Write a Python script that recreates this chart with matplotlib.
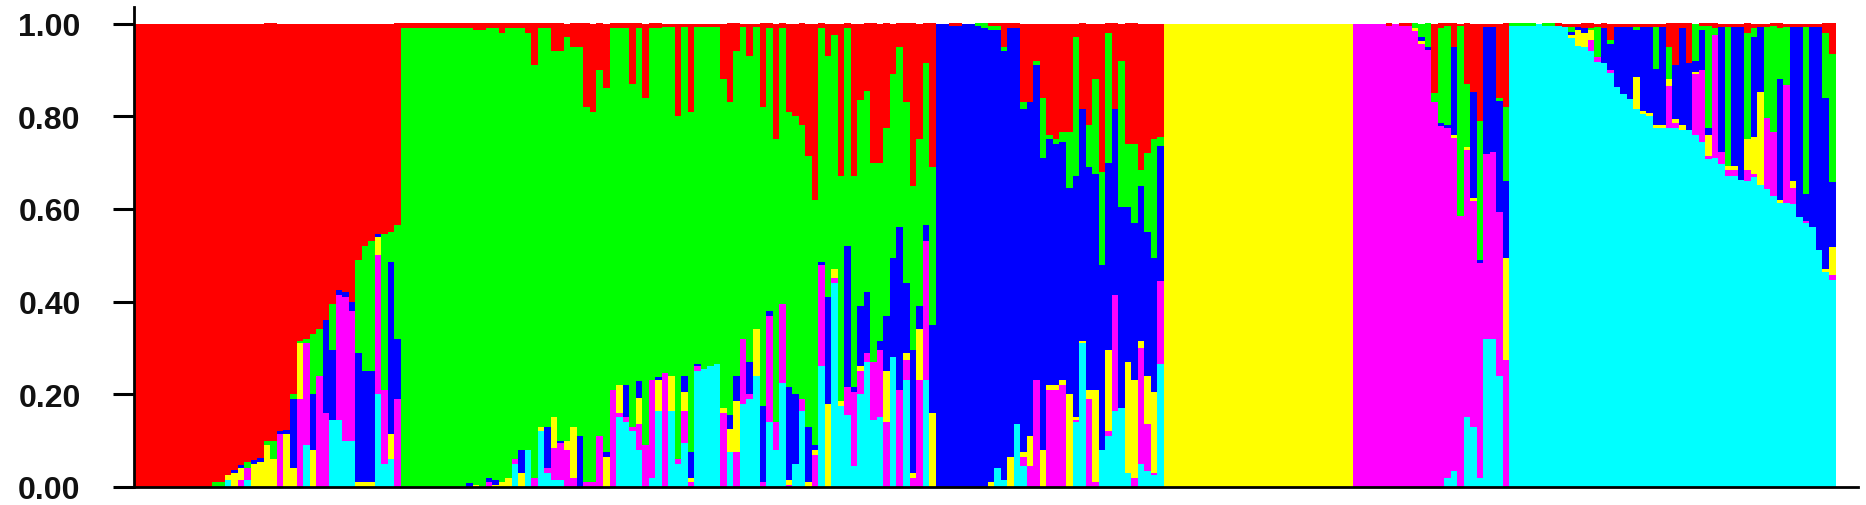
import numpy as np
import matplotlib
matplotlib.use("Agg")
import matplotlib.pyplot as plt

# STRUCTURE-style membership plot, K = 6
# each row: (cyan, magenta, yellow, blue, green, red), stacked bottom -> top
# None = the group's main cluster, takes whatever is left so the row sums to 1
cluster_colors = ["#00FFFF", "#FF00FF", "#FFFF00", "#0000FF", "#00FF00", "#FF0000"]

pop_red = [(0, 0, 0, 0, 0, None)] * 12 + [
    (0, 0, 0, 0, 0.01, None),
    (0, 0, 0, 0, 0.01, None),
    (0.015, 0, 0.01, 0, 0, None),
    (0, 0, 0.03, 0.007, 0, None),
    (0, 0.015, 0.025, 0.007, 0, None),
    (0.015, 0.025, 0, 0, 0.013, None),
    (0, 0, 0.05, 0.008, 0, None),
    (0, 0, 0.055, 0.007, 0, None),
    (0, 0, 0.09, 0, 0.01, None),
    (0, 0, 0.06, 0, 0.04, None),
    (0, 0.115, 0, 0.005, 0, None),
    (0, 0, 0.115, 0.008, 0, None),
    (0, 0, 0.04, 0.15, 0.01, None),
    (0, 0.19, 0.12, 0, 0.004, None),
    (0.09, 0.22, 0, 0, 0.01, None),
    (0, 0, 0.08, 0.12, 0.13, None),
    (0, 0.24, 0, 0, 0.1, None),
    (0, 0.16, 0, 0.2, 0, None),
    (0.145, 0, 0, 0.15, 0.1, None),
    (0.145, 0.27, 0, 0.01, 0, None),
    (0.1, 0.31, 0, 0.01, 0, None),
    (0.1, 0.28, 0, 0.02, 0, None),
    (0, 0, 0.01, 0.28, 0.2, None),
    (0, 0, 0.01, 0.24, 0.27, None),
    (0, 0, 0.01, 0.24, 0.28, None),
    (0.2, 0.3, 0.04, 0.005, 0, None),
    (0.05, 0.16, 0, 0, 0.335, None),
    (0.06, 0, 0.055, 0.37, 0.065, None),
    (0, 0.19, 0, 0.13, 0.245, None),
]

pop_green = [(0, 0, 0, 0, None, 0.01)] * 10 + [
    (0, 0, 0, 0.008, None, 0.01),
    (0, 0, 0.005, 0, None, 0.015),
    (0, 0, 0, 0, None, 0.015),
    (0, 0.01, 0, 0.01, None, 0.01),
    (0, 0, 0.005, 0.01, None, 0.01),
    (0, 0, 0.01, 0, None, 0.02),
    (0, 0, 0.02, 0, None, 0.01),
    (0.05, 0.01, 0, 0, None, 0.01),
    (0, 0, 0.03, 0.05, None, 0.01),
    (0.08, 0, 0, 0, None, 0.02),
    (0, 0.02, 0, 0, None, 0.09),
    (0.12, 0, 0.01, 0, None, 0.01),
    (0.03, 0.01, 0, 0.09, None, 0.01),
    (0.015, 0.07, 0.065, 0, None, 0.06),
    (0.015, 0.08, 0, 0.005, None, 0.06),
    (0, 0.08, 0.02, 0, None, 0.03),
    (0, 0.02, 0.11, 0, None, 0.05),
    (0, 0, 0, 0.11, None, 0.05),
    (0, 0.01, 0, 0, None, 0.18),
    (0, 0.01, 0, 0, None, 0.19),
    (0, 0.11, 0, 0, None, 0.1),
    (0, 0, 0.065, 0.01, None, 0.14),
    (0, 0.21, 0, 0, None, 0.01),
    (0.15, 0.01, 0.06, 0, None, 0.01),
    (0.14, 0.01, 0, 0.07, None, 0.01),
    (0.12, 0.01, 0, 0, None, 0.13),
    (0.08, 0.057, 0.054, 0.037, None, 0.01),
    (0, 0.09, 0, 0, None, 0.16),
    (0.02, 0.21, 0, 0, None, 0.01),
    (0.165, 0, 0.065, 0.007, None, 0.01),
    (0, 0.245, 0, 0, None, 0.008),
    (0.165, 0, 0.075, 0, None, 0.008),
    (0.05, 0.01, 0, 0, None, 0.2),
    (0.095, 0.07, 0.04, 0.035, None, 0.008),
    (0, 0.01, 0.01, 0.055, None, 0.19),
    (0.25, 0.01, 0, 0.005, None, 0.008),
    (0.255, 0, 0, 0, None, 0.008),
    (0.26, 0, 0, 0, None, 0.008),
    (0.265, 0, 0, 0, None, 0.008),
    (0, 0.16, 0.01, 0, None, 0.12),
    (0.075, 0, 0.05, 0.03, None, 0.17),
    (0, 0.075, 0.11, 0.055, None, 0.06),
    (0.18, 0.14, 0, 0, None, 0.008),
    (0.19, 0.01, 0, 0.07, None, 0.07),
    (0.24, 0, 0.1, 0, None, 0.008),
    (0, 0.01, 0, 0.165, None, 0.18),
    (0.14, 0.23, 0, 0.01, None, 0.01),
    (0.08, 0.06, 0, 0, None, 0.25),
    (0.225, 0.17, 0, 0, None, 0.01),
    (0, 0.005, 0.01, 0.2, None, 0.19),
    (0.05, 0, 0, 0.15, None, 0.2),
    (0.165, 0.025, 0, 0, None, 0.22),
    (0, 0, 0.01, 0.12, None, 0.285),
    (0, 0.07, 0.01, 0.01, None, 0.38),
    (0.26, 0.22, 0, 0.005, None, 0.01),
    (0, 0, 0.18, 0.23, None, 0.07),
    (0.44, 0.01, 0.02, 0, None, 0.025),
    (0.175, 0, 0.01, 0, None, 0.33),
    (0.155, 0.06, 0, 0.305, None, 0.01),
    (0.045, 0.16, 0, 0.01, None, 0.33),
    (0.2, 0.05, 0.01, 0.13, None, 0.165),
    (0.27, 0.02, 0, 0.13, None, 0.145),
    (0.145, 0.125, 0, 0, None, 0.3),
    (0.15, 0.145, 0, 0.02, None, 0.3),
    (0, 0.14, 0.11, 0.12, None, 0.225),
    (0.28, 0, 0, 0.215, None, 0.11),
    (0, 0.21, 0, 0.35, None, 0.05),
    (0.23, 0.045, 0.015, 0.15, None, 0.17),
    (0, 0.02, 0.01, 0.265, None, 0.35),
    (0, 0.23, 0.11, 0.05, None, 0.25),
    (0.23, 0.3, 0, 0.035, None, 0.085),
    (0, 0, 0.16, 0.19, None, 0.31),
]

pop_blue = [
    (0, 0, 0, None, 0, 0),
    (0, 0, 0, None, 0, 0),
    (0, 0, 0, None, 0, 0.005),
    (0, 0, 0, None, 0, 0.005),
    (0, 0, 0, None, 0, 0),
    (0, 0, 0, None, 0, 0),
    (0, 0, 0, None, 0.005, 0),
    (0, 0, 0, None, 0.01, 0),
    (0, 0, 0.01, None, 0.01, 0.005),
    (0.04, 0, 0, None, 0.01, 0.005),
    (0.015, 0, 0, None, 0.01, 0.05),
    (0, 0, 0.065, None, 0, 0.01),
    (0.135, 0, 0, None, 0, 0.01),
    (0.045, 0.02, 0.01, None, 0.015, 0.17),
    (0, 0.045, 0.065, None, 0, 0.17),
    (0, 0.23, 0, None, 0.01, 0.08),
    (0, 0, 0.08, None, 0.13, 0.16),
    (0, 0.21, 0.01, None, 0.01, 0.24),
    (0, 0.21, 0.01, None, 0.01, 0.25),
    (0, 0.22, 0.01, None, 0.02, 0.235),
    (0, 0, 0.2, None, 0.12, 0.235),
    (0.14, 0.005, 0.005, None, 0.3, 0.03),
    (0.31, 0, 0.005, None, 0, 0.185),
    (0, 0.19, 0.02, None, 0.09, 0.22),
    (0, 0.01, 0.2, None, 0.205, 0.12),
    (0.08, 0, 0, None, 0.2, 0.32),
    (0.11, 0.01, 0.175, None, 0.28, 0.02),
    (0.165, 0.25, 0, None, 0, 0.185),
    (0.17, 0, 0, None, 0.315, 0.08),
    (0.03, 0, 0.24, None, 0.135, 0.26),
    (0, 0.02, 0.21, None, 0.17, 0.26),
    (0.05, 0.25, 0.015, None, 0.035, 0.315),
    (0.035, 0.1, 0.105, None, 0.17, 0.28),
    (0.025, 0.005, 0.175, None, 0.255, 0.25),
    (0.265, 0.18, 0, None, 0.02, 0.245),
]

pop_yellow = [(0, 0, None, 0, 0, 0)] * 29

pop_magenta = [(0, None, 0, 0, 0, 0)] * 5 + [
    (0, None, 0, 0, 0, 0.005),
    (0, None, 0, 0, 0, 0),
    (0, None, 0, 0, 0, 0.005),
    (0, None, 0, 0, 0, 0.005),
    (0, None, 0.007, 0, 0.01, 0),
    (0, None, 0.007, 0.007, 0.03, 0),
    (0, None, 0, 0.007, 0.05, 0),
    (0, None, 0, 0, 0.02, 0.15),
    (0, None, 0, 0.007, 0.205, 0.01),
    (0.02, None, 0, 0.005, 0.215, 0.005),
    (0.035, None, 0.007, 0.19, 0, 0.05),
    (0, None, 0, 0, 0.41, 0.005),
    (0.15, None, 0.005, 0, 0.137, 0.13),
    (0.13, None, 0.007, 0.23, 0, 0.147),
    (0.02, None, 0, 0.007, 0.3, 0.21),
    (0.32, None, 0, 0.275, 0, 0.007),
    (0.32, None, 0, 0.27, 0, 0.007),
    (0.24, None, 0, 0.24, 0.007, 0.16),
    (0, None, 0.22, 0.165, 0.16, 0.18),
]

pop_cyan = [
    (None, 0, 0, 0, 0.005, 0),
    (None, 0, 0, 0, 0.005, 0),
    (None, 0, 0, 0, 0.005, 0),
    (None, 0, 0, 0, 0.005, 0),
    (None, 0, 0, 0, 0, 0),
    (None, 0, 0, 0, 0.005, 0),
    (None, 0, 0, 0, 0.005, 0),
    (None, 0, 0, 0, 0, 0.005),
    (None, 0, 0, 0, 0, 0.008),
    (None, 0, 0.007, 0.007, 0.01, 0.008),
    (None, 0, 0.035, 0.005, 0, 0.008),
    (None, 0, 0.03, 0.01, 0, 0.01),
    (None, 0.025, 0.02, 0, 0.005, 0.01),
    (None, 0.01, 0, 0, 0.065, 0.008),
    (None, 0, 0, 0.075, 0, 0.01),
    (None, 0.007, 0, 0.055, 0.01, 0.035),
    (None, 0, 0, 0.13, 0, 0.008),
    (None, 0, 0, 0.145, 0, 0.008),
    (None, 0, 0, 0.155, 0, 0.008),
    (None, 0, 0.07, 0.1, 0.007, 0.008),
    (None, 0, 0.007, 0.18, 0, 0.008),
    (None, 0, 0.007, 0.185, 0, 0.008),
    (None, 0, 0.007, 0.12, 0.09, 0.008),
    (None, 0, 0.007, 0.21, 0, 0.008),
    (None, 0.09, 0.015, 0, 0.07, 0.05),
    (None, 0.01, 0.01, 0.115, 0, 0.09),
    (None, 0, 0.01, 0.21, 0, 0.01),
    (None, 0, 0, 0.145, 0, 0.085),
    (None, 0.13, 0.005, 0.025, 0.08, 0),
    (None, 0.155, 0, 0.085, 0.01, 0.005),
    (None, 0.007, 0.045, 0.015, 0.22, 0.005),
    (None, 0.265, 0, 0, 0.015, 0.01),
    (None, 0.025, 0, 0.27, 0, 0.008),
    (None, 0.015, 0.007, 0, 0.3, 0.008),
    (None, 0.015, 0.007, 0.3, 0, 0.008),
    (None, 0, 0, 0.33, 0, 0.008),
    (None, 0.025, 0.065, 0, 0.23, 0.02),
    (None, 0.007, 0.08, 0.215, 0.02, 0.01),
    (None, 0, 0.2, 0.14, 0, 0.008),
    (None, 0.155, 0, 0, 0.195, 0.008),
    (None, 0.137, 0, 0, 0.23, 0.005),
    (None, 0, 0.007, 0.26, 0.11, 0.01),
    (None, 0.255, 0, 0, 0.125, 0.008),
    (None, 0.035, 0.015, 0.332, 0, 0.008),
    (None, 0, 0, 0.41, 0, 0.008),
    (None, 0.005, 0, 0.058, 0.36, 0.008),
    (None, 0, 0, 0.43, 0, 0.008),
    (None, 0, 0, 0.48, 0, 0.008),
    (None, 0, 0.007, 0.37, 0.14, 0.02),
    (None, 0.01, 0.06, 0.14, 0.277, 0.066),
]

y_ticks = [0.0, 0.2, 0.4, 0.6, 0.8, 1.0]

rows = []
for pop in [pop_red, pop_green, pop_blue, pop_yellow, pop_magenta, pop_cyan]:
    for r in pop:
        rest = 1 - sum(v for v in r if v is not None)
        rows.append([rest if v is None else v for v in r])
q = np.array(rows)
n = len(q)
x = np.arange(n)

W, H = 1866, 506
fig = plt.figure(figsize=(W / 100, H / 100), dpi=100)
ax = fig.add_axes([133.5 / W, 18 / H, (1858 - 133.5) / W, 480 / H])

bottom = np.zeros(n)
for k, col in enumerate(cluster_colors):
    ax.bar(x, q[:, k], bottom=bottom, width=1.0, align="edge", color=col,
           linewidth=0, antialiased=False)
    bottom += q[:, k]

bar_px = 1702 / n
ax.set_xlim(0, (1858 - 133.5) / bar_px)
ax.set_ylim(0, 480 / 463.5)

for s in ["top", "right"]:
    ax.spines[s].set_visible(False)
for s in ["left", "bottom"]:
    ax.spines[s].set_linewidth(2.0)
    ax.spines[s].set_color("black")

ax.set_xticks([])
ax.set_yticks(y_ticks)
ax.set_yticklabels([f"{t:.2f}" for t in y_ticks], family="Liberation Sans",
                   fontweight="bold", color="#111111")
ax.tick_params(axis="y", length=15, width=2.2, pad=23, labelsize=23)

fig.savefig("out.png", dpi=100)
